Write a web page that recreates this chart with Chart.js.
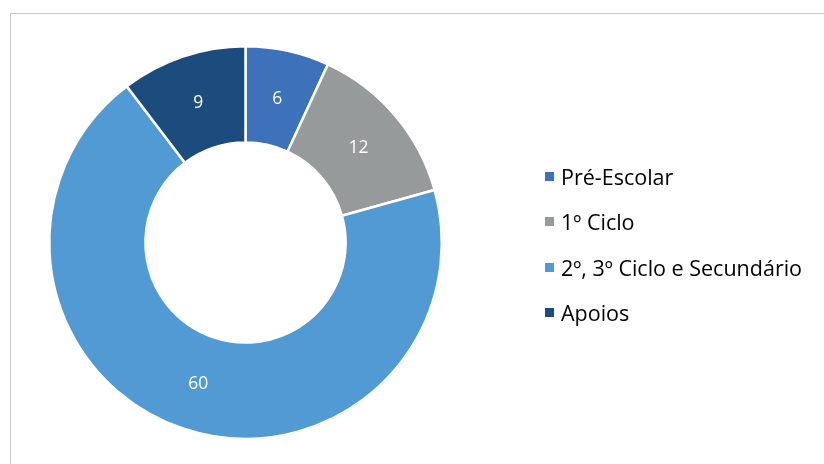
<!DOCTYPE html>
<html>
<head>
<meta charset="utf-8">
<script src="https://cdn.jsdelivr.net/npm/chart.js@4"></script>
<style>
  body { margin: 0; background: #fff; }
  #wrap { position: relative; width: 824px; height: 464px; overflow: hidden; }
  #frame { position: absolute; left: 10px; top: 13px; width: 900px; height: 600px; border: 1px solid #c9c9c9; }
  #chart { position: absolute; left: 0; top: 0; }
  #legend { position: absolute; left: 545px; top: 0; font-family: "Open Sans", sans-serif; font-size: 21.5px; color: #000; }
  .item { position: absolute; left: 0; white-space: nowrap; display: flex; align-items: center; height: 26px; }
  .box { width: 9px; height: 9px; margin-right: 7px; }
</style>
</head>
<body>
<div id="wrap">
  <div id="frame"></div>
  <canvas id="chart" width="824" height="464"></canvas>
  <div id="legend"></div>
</div>
<script>
const categories = ["Pré-Escolar", "1º Ciclo", "2º, 3º Ciclo e Secundário", "Apoios"];
const values = [6, 12, 60, 9];
const colors = ["#3D72BA", "#979A9A", "#519AD3", "#1C4C7D"];
const legendRows = [176, 221, 267, 312];

document.addEventListener("DOMContentLoaded", function () {
  const legend = document.getElementById("legend");
  categories.forEach((name, i) => {
    const item = document.createElement("div");
    item.className = "item";
    item.style.top = (legendRows[i] - 13) + "px";
    item.innerHTML = `<span class="box" style="background:${colors[i]}"></span><span>${name}</span>`;
    legend.appendChild(item);
  });

  const valueLabels = {
    id: "valueLabels",
    afterDatasetsDraw(chart) {
      const ctx = chart.ctx;
      const meta = chart.getDatasetMeta(0);
      ctx.save();
      ctx.fillStyle = "#fff";
      ctx.font = "17.5px 'Open Sans'";
      ctx.textAlign = "center";
      ctx.textBaseline = "middle";
      meta.data.forEach((arc, i) => {
        const p = arc.tooltipPosition();
        ctx.fillText(values[i], p.x, p.y + 1);
      });
      ctx.restore();
    }
  };

  new Chart(document.getElementById("chart"), {
    type: "doughnut",
    data: {
      labels: categories,
      datasets: [{
        data: values,
        backgroundColor: colors,
        borderColor: "#fff",
        borderWidth: 2.5
      }]
    },
    options: {
      responsive: false,
      animation: false,
      cutout: "51%",
      layout: { padding: { left: 48, right: 381, top: 44, bottom: 23 } },
      plugins: { legend: { display: false }, tooltip: { enabled: false } }
    },
    plugins: [valueLabels]
  });
});
</script>
</body>
</html>
